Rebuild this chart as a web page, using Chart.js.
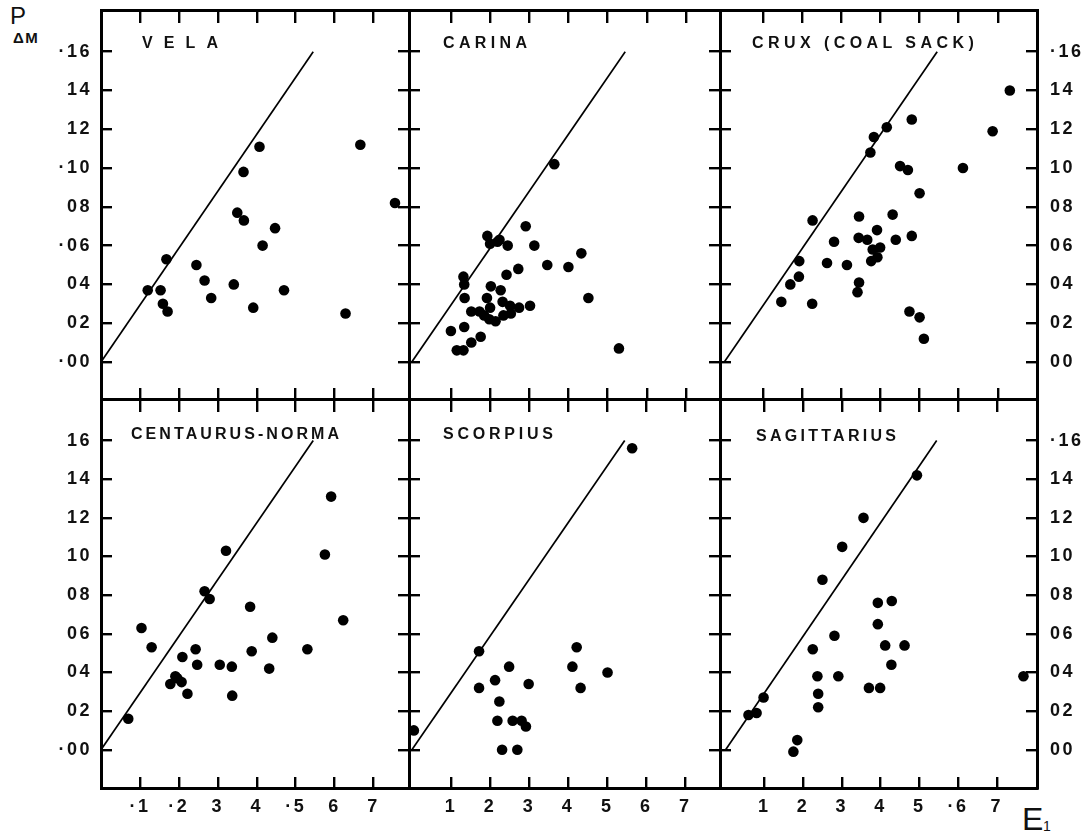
<!DOCTYPE html>
<html><head><meta charset="utf-8">
<script src="https://cdn.jsdelivr.net/npm/chart.js@4/dist/chart.umd.min.js"></script>
<style>
html,body{margin:0;padding:0;background:#fff;}
body{width:1091px;height:833px;position:relative;overflow:hidden;font-family:"Liberation Sans",Arial,sans-serif;color:#111;}
canvas{position:absolute;}
.ttl{position:absolute;font-weight:bold;font-size:16px;line-height:16px;white-space:nowrap;}
.ax{position:absolute;white-space:nowrap;}
</style></head><body>
<div class="ax" style="left:10px;top:4px;font-size:24px;line-height:24px;">P</div>
<div class="ax" style="left:13px;top:30px;font-size:15px;line-height:15px;font-weight:bold;letter-spacing:1.5px;">ΔM</div>
<div class="ax" style="left:1022px;top:803px;font-size:32px;line-height:32px;">E</div>
<div class="ax" style="left:1043px;top:819px;font-size:14px;line-height:14px;">1</div>
<script>
// ---------- data ----------
const panelTitles = ['VELA', 'CARINA', 'CRUX (COAL SACK)', 'CENTAURUS-NORMA', 'SCORPIUS', 'SAGITTARIUS'];
const yTickValues = [0, 0.02, 0.04, 0.06, 0.08, 0.10, 0.12, 0.14, 0.16];
const xTickValues = [0.1, 0.2, 0.3, 0.4, 0.5, 0.6, 0.7];
const leftTopLabels = ['·00', '02', '04', '·06', '08', '·10', '12', '14', '·16'];
const leftBottomLabels = ['·00', '02', '04', '06', '08', '10', '12', '14', '16'];
const rightTopLabels = ['00', '02', '04', '06', '08', '10', '12', '14', '·16'];
const rightBottomLabels = ['00', '02', '04', '06', '08', '10', '12', '14', '·16'];
const xLabelsCentaurus = ['·1', '·2', '3', '4', '·5', '6', '7'];
const xLabelsScorpius = ['1', '2', '3', '4', '5', '6', '7'];
const xLabelsSagittarius = ['1', '2', '3', '4', '5', '·6', '7'];

const lineE = [0, 0.545];
const lineP = [0, 0.16];

const velaE = [0.120, 0.153, 0.168, 0.159, 0.171, 0.245, 0.266, 0.283, 0.341, 0.350, 0.367, 0.366, 0.407, 0.415, 0.447, 0.391, 0.470, 0.628, 0.666, 0.755];
const velaP = [0.037, 0.037, 0.053, 0.030, 0.026, 0.050, 0.042, 0.033, 0.040, 0.077, 0.073, 0.098, 0.111, 0.060, 0.069, 0.028, 0.037, 0.025, 0.112, 0.082];

const carinaE = [0.364, 0.193, 0.200, 0.219, 0.224, 0.245, 0.291, 0.313, 0.433, 0.400, 0.346, 0.272, 0.242, 0.132, 0.134, 0.135, 0.202, 0.227, 0.192, 0.200, 0.232, 0.251, 0.274, 0.302, 0.152, 0.173, 0.185, 0.198, 0.214, 0.234, 0.253, 0.100, 0.134, 0.176, 0.152, 0.115, 0.132, 0.451, 0.529];
const carinaP = [0.102, 0.065, 0.061, 0.062, 0.063, 0.060, 0.070, 0.060, 0.056, 0.049, 0.050, 0.048, 0.045, 0.044, 0.040, 0.033, 0.039, 0.037, 0.033, 0.028, 0.031, 0.029, 0.028, 0.029, 0.026, 0.026, 0.024, 0.022, 0.021, 0.024, 0.025, 0.016, 0.018, 0.013, 0.010, 0.006, 0.006, 0.033, 0.007];

const cruxE = [0.146, 0.169, 0.191, 0.192, 0.225, 0.226, 0.263, 0.281, 0.314, 0.341, 0.345, 0.344, 0.345, 0.366, 0.376, 0.380, 0.392, 0.399, 0.391, 0.374, 0.383, 0.416, 0.431, 0.439, 0.450, 0.470, 0.480, 0.480, 0.500, 0.474, 0.500, 0.511, 0.611, 0.687, 0.731];
const cruxP = [0.031, 0.040, 0.044, 0.052, 0.030, 0.073, 0.051, 0.062, 0.050, 0.036, 0.041, 0.064, 0.075, 0.063, 0.052, 0.058, 0.054, 0.059, 0.068, 0.108, 0.116, 0.121, 0.076, 0.063, 0.101, 0.099, 0.125, 0.065, 0.087, 0.026, 0.023, 0.012, 0.100, 0.119, 0.140];

const centaurusE = [0.070, 0.104, 0.130, 0.178, 0.191, 0.196, 0.207, 0.209, 0.222, 0.243, 0.247, 0.266, 0.279, 0.305, 0.321, 0.336, 0.337, 0.383, 0.387, 0.432, 0.440, 0.530, 0.575, 0.591, 0.622];
const centaurusP = [0.016, 0.063, 0.053, 0.034, 0.038, 0.037, 0.035, 0.048, 0.029, 0.052, 0.044, 0.082, 0.078, 0.044, 0.103, 0.043, 0.028, 0.074, 0.051, 0.042, 0.058, 0.052, 0.101, 0.131, 0.067];

const scorpiusE = [0.005, 0.172, 0.172, 0.213, 0.249, 0.224, 0.219, 0.258, 0.281, 0.292, 0.299, 0.231, 0.270, 0.422, 0.411, 0.432, 0.501, 0.564];
const scorpiusP = [0.010, 0.051, 0.032, 0.036, 0.043, 0.025, 0.015, 0.015, 0.015, 0.012, 0.034, 0.000, 0.000, 0.053, 0.043, 0.032, 0.040, 0.156];

const sagittariusE = [0.059, 0.080, 0.098, 0.175, 0.185, 0.225, 0.237, 0.239, 0.239, 0.250, 0.281, 0.291, 0.301, 0.356, 0.370, 0.399, 0.393, 0.393, 0.412, 0.429, 0.428, 0.462, 0.494, 0.769];
const sagittariusP = [0.018, 0.019, 0.027, -0.001, 0.005, 0.052, 0.038, 0.029, 0.022, 0.088, 0.059, 0.038, 0.105, 0.120, 0.032, 0.032, 0.076, 0.065, 0.054, 0.077, 0.044, 0.054, 0.142, 0.038];

// ---------- layout ----------
const XE = [101, 409, 720, 1037];
const YE = [10, 399, 788];
const M = 60;
const FONT = {family: '"Liberation Sans", Arial, sans-serif', size: 18, weight: 'bold'};

const panels = [
  {E: velaE, P: velaP, xMin: 0, xMax: 0.791, row: 0, col: 0, left: leftTopLabels},
  {E: carinaE, P: carinaP, xMin: -0.007, xMax: 0.787, row: 0, col: 1},
  {E: cruxE, P: cruxP, xMin: -0.011, xMax: 0.8006, row: 0, col: 2, right: rightTopLabels},
  {E: centaurusE, P: centaurusP, xMin: 0, xMax: 0.791, row: 1, col: 0, left: leftBottomLabels, bottom: xLabelsCentaurus},
  {E: scorpiusE, P: scorpiusP, xMin: -0.0074, xMax: 0.789, row: 1, col: 1, bottom: xLabelsScorpius},
  {E: sagittariusE, P: sagittariusP, xMin: -0.0145, xMax: 0.804, row: 1, col: 2, right: rightBottomLabels, bottom: xLabelsSagittarius}
];
const yRanges = [{min: -0.0191, max: 0.1815}, {min: -0.0198, max: 0.1815}];

const titleBoxes = [
  {x: 142, cy: 43, w: 76}, {x: 443, cy: 43, w: 84}, {x: 752, cy: 43, w: 222},
  {x: 131, cy: 434, w: 208}, {x: 443, cy: 434, w: 110}, {x: 756, cy: 436, w: 140}
];

const spacingPlugin = {id: 'spacing', beforeDraw(chart) { chart.ctx.letterSpacing = '2.5px'; }};

function setTicks(values) { return scale => { scale.ticks = values.map(v => ({value: v})); }; }
function fixW(w) { return scale => { scale.width = w; }; }
function fixH(h) { return scale => { scale.height = h; }; }

function axis(pos, labels, range, ticks, tickLen, padding) {
  const isX = pos === 'top' || pos === 'bottom';
  return {
    type: 'linear', position: pos, display: true, bounds: 'data',
    min: range.min, max: range.max,
    afterBuildTicks: setTicks(ticks),
    afterFit: isX ? fixH(M) : fixW(M),
    border: {display: true, width: 3, color: '#000'},
    grid: {display: true, drawOnChartArea: false, drawTicks: true, tickLength: tickLen, lineWidth: 2.4, color: '#000', tickColor: '#000'},
    ticks: {
      display: !!labels, autoSkip: false, maxRotation: 0, padding: padding,
      color: '#111', font: FONT,
      callback: (v, i) => labels ? labels[i] : ''
    }
  };
}

panels.forEach((p, idx) => {
  const pw = XE[p.col + 1] - XE[p.col];
  const ph = YE[p.row + 1] - YE[p.row];
  const cv = document.createElement('canvas');
  cv.width = pw + 2 * M; cv.height = ph + 2 * M;
  cv.style.left = (XE[p.col] - M) + 'px';
  cv.style.top = (YE[p.row] - M) + 'px';
  document.body.appendChild(cv);
  const yr = yRanges[p.row];
  const xr = {min: p.xMin, max: p.xMax};
  new Chart(cv.getContext('2d'), {
    type: 'scatter',
    data: {
      datasets: [
        {data: p.E.map((e, i) => ({x: e, y: p.P[i]})), pointRadius: 5.3, pointHoverRadius: 5.3,
         backgroundColor: '#000', borderColor: '#000', borderWidth: 0, showLine: false, clip: false},
        {data: lineE.map((e, i) => ({x: e, y: lineP[i]})), showLine: true, pointRadius: 0,
         borderColor: '#000', borderWidth: 1.7, fill: false, clip: false}
      ]
    },
    options: {
      responsive: false, animation: false, devicePixelRatio: 1,
      layout: {padding: 0},
      plugins: {legend: {display: false}, tooltip: {enabled: false}, title: {display: false}},
      events: [],
      scales: {
        x: axis('bottom', p.bottom, xr, xTickValues, -11, 19),
        x2: axis('top', null, xr, xTickValues, -13, 0),
        y: axis('left', p.left, yr, yTickValues, -11, 20),
        y2: axis('right', p.right, yr, yTickValues, -11, 24)
      }
    },
    plugins: [spacingPlugin]
  });
});

// panel titles (fit letter spacing to width)
const mctx = document.createElement('canvas').getContext('2d');
mctx.font = 'bold 16px "Liberation Sans", Arial, sans-serif';
panelTitles.forEach((t, i) => {
  const b = titleBoxes[i];
  const nat = mctx.measureText(t).width;
  const sp = (b.w - nat) / (t.length - 1);
  const d = document.createElement('div');
  d.className = 'ttl';
  d.textContent = t;
  d.style.left = b.x + 'px';
  d.style.top = (b.cy - 8) + 'px';
  d.style.letterSpacing = sp.toFixed(2) + 'px';
  document.body.appendChild(d);
});
</script>
</body></html>
